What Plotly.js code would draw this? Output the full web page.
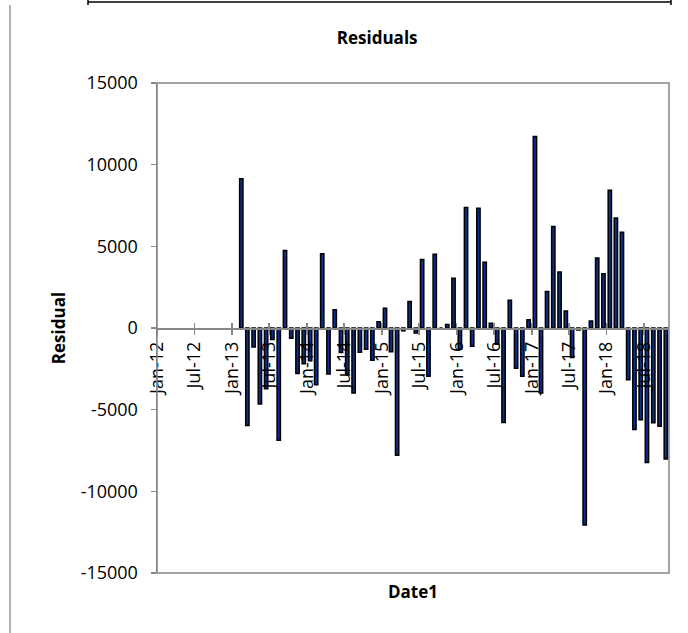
<!DOCTYPE html>
<html>
<head>
<meta charset="utf-8">
<script src="https://cdn.plot.ly/plotly-3.0.1.min.js"></script>
<style>html,body{margin:0;padding:0;background:#fff;}#chart{width:688px;height:633px;}</style>
</head>
<body>
<div id="chart"></div>
<script>
// Monthly observation dates (Date1)
const months = [
  '2013-02-01','2013-03-01','2013-04-01','2013-05-01','2013-06-01','2013-07-01','2013-08-01','2013-09-01','2013-10-01','2013-11-01','2013-12-01',
  '2014-01-01','2014-02-01','2014-03-01','2014-04-01','2014-05-01','2014-06-01','2014-07-01','2014-08-01','2014-09-01','2014-10-01','2014-11-01','2014-12-01',
  '2015-01-01','2015-02-01','2015-03-01','2015-04-01','2015-05-01','2015-06-01','2015-07-01','2015-08-01','2015-09-01','2015-10-01','2015-11-01','2015-12-01',
  '2016-01-01','2016-02-01','2016-03-01','2016-04-01','2016-05-01','2016-06-01','2016-07-01','2016-08-01','2016-09-01','2016-10-01','2016-11-01','2016-12-01',
  '2017-01-01','2017-02-01','2017-03-01','2017-04-01','2017-05-01','2017-06-01','2017-07-01','2017-08-01','2017-09-01','2017-10-01','2017-11-01','2017-12-01',
  '2018-01-01','2018-02-01','2018-03-01','2018-04-01','2018-05-01','2018-06-01','2018-07-01','2018-08-01','2018-09-01','2018-10-01'
];
// Residual values
const residuals = [
  9140, -5970, -1160, -4650, -3720, -700, -6880, 4750, -620, -2780, -2190,
  -2000, -3470, 4540, -2810, 1120, -1500, -2800, -3980, -1480, -1300, -1980, 390,
  1210, -1450, -7790, -170, 1630, -300, 4200, -2960, 4510, 0, 210, 3040,
  -1300, 7380, -1120, 7330, 4020, 290, -1000, -5780, 1700, -2460, -2960, 510,
  11730, -3980, 2240, 6220, 3430, 1040, -1800, -120, -12060, 430, 4290, 3320,
  8430, 6740, 5860, -3170, -6210, -5610, -8230, -5800, -6020, -8020
];
// Axis ticks
const tickDates = ['2012-01-01','2012-07-01','2013-01-01','2013-07-01','2014-01-01','2014-07-01','2015-01-01','2015-07-01','2016-01-01','2016-07-01','2017-01-01','2017-07-01','2018-01-01','2018-07-01'];
const tickLabels = ['Jan-12','Jul-12','Jan-13','Jul-13','Jan-14','Jul-14','Jan-15','Jul-15','Jan-16','Jul-16','Jan-17','Jul-17','Jan-18','Jul-18'];
const yTicks = [-15000, -10000, -5000, 0, 5000, 10000, 15000];
const xRange = ['2012-01-01', '2018-11-01'];
const yRange = [-15000, 15000];

const FONT = 'Open Sans, Liberation Sans, sans-serif';
const GRAY = '#878787';

const bars = {
  type: 'bar',
  x: months,
  y: residuals,
  xperiod: 'M1',
  xperiodalignment: 'middle',
  marker: { color: '#0d2f8c', line: { color: '#000000', width: 1.5 } },
  hoverinfo: 'x+y'
};
// empty helper traces so the overlay axes (crossing ticks, bottom title) are drawn
const helper2 = { type: 'scatter', x: [], y: [], xaxis: 'x2', yaxis: 'y', hoverinfo: 'skip', showlegend: false };
const helper3 = { type: 'scatter', x: [], y: [], xaxis: 'x3', yaxis: 'y', hoverinfo: 'skip', showlegend: false };

const layout = {
  width: 688,
  height: 633,
  margin: { l: 157, r: 19, t: 83, b: 60 },
  paper_bgcolor: '#ffffff',
  plot_bgcolor: '#ffffff',
  showlegend: false,
  bargap: 0.45,
  font: { family: FONT, size: 18, color: '#000' },
  title: {
    text: '<b>Residuals</b>',
    font: { family: FONT, size: 17, color: '#000' },
    xref: 'paper', x: 0.43, xanchor: 'center',
    yref: 'container', y: 1 - 38 / 633, yanchor: 'middle'
  },
  xaxis: {
    type: 'date',
    range: xRange,
    anchor: 'free',
    position: 0.5,
    showgrid: false,
    zeroline: false,
    showline: true,
    linecolor: GRAY,
    linewidth: 1.5,
    tickmode: 'array',
    tickvals: tickDates,
    ticktext: tickLabels,
    ticks: 'outside',
    ticklen: 5,
    tickwidth: 1.5,
    tickcolor: GRAY,
    tickangle: -90,
    tickfont: { family: FONT, size: 18, color: '#000' },
    fixedrange: true
  },
  xaxis2: {
    type: 'date',
    range: xRange,
    overlaying: 'x',
    anchor: 'free',
    position: 0.5,
    showgrid: false,
    zeroline: false,
    showline: false,
    tickmode: 'array',
    tickvals: tickDates,
    ticks: 'inside',
    ticklen: 5,
    tickwidth: 1.5,
    tickcolor: GRAY,
    showticklabels: false,
    fixedrange: true
  },
  xaxis3: {
    type: 'date',
    range: xRange,
    overlaying: 'x',
    anchor: 'y',
    side: 'bottom',
    showgrid: false,
    zeroline: false,
    showline: false,
    ticks: '',
    showticklabels: false,
    title: { text: '<b>Date1</b>', font: { family: FONT, size: 17, color: '#000' }, standoff: 13 },
    fixedrange: true
  },
  yaxis: {
    range: yRange,
    tickmode: 'array',
    tickvals: yTicks,
    ticktext: yTicks.map(String),
    showgrid: false,
    zeroline: false,
    showline: true,
    linecolor: GRAY,
    linewidth: 1.5,
    ticks: 'outside',
    ticklen: 5,
    tickwidth: 1.5,
    tickcolor: GRAY,
    ticklabelstandoff: 9,
    tickfont: { family: FONT, size: 18, color: '#000' },
    title: { text: '<b>Residual</b>', font: { family: FONT, size: 17, color: '#000' }, standoff: 10 },
    fixedrange: true
  },
  shapes: [
    { type: 'rect', xref: 'paper', yref: 'paper', x0: 0, x1: 1, y0: 0, y1: 1,
      line: { color: GRAY, width: 1.5 }, fillcolor: 'rgba(0,0,0,0)', layer: 'above' },
    { type: 'line', xref: 'paper', yref: 'paper', x0: (10 - 157) / 512, x1: (10 - 157) / 512,
      y0: (573 - 5) / 490, y1: (573 - 640) / 490, line: { color: '#9a9a9a', width: 1.5 } },
    { type: 'line', xref: 'paper', yref: 'paper', x0: (88 - 157) / 512, x1: (671 - 157) / 512,
      y0: (573 - 2) / 490, y1: (573 - 2) / 490, line: { color: '#000', width: 1.5 } },
    { type: 'line', xref: 'paper', yref: 'paper', x0: (88 - 157) / 512, x1: (88 - 157) / 512,
      y0: (573 + 2) / 490, y1: (573 - 5) / 490, line: { color: '#000', width: 1.5 } },
    { type: 'line', xref: 'paper', yref: 'paper', x0: (671 - 157) / 512, x1: (671 - 157) / 512,
      y0: (573 + 2) / 490, y1: (573 - 5) / 490, line: { color: '#000', width: 1.5 } }
  ]
};

Plotly.newPlot('chart', [bars, helper2, helper3], layout, { displayModeBar: false, staticPlot: true });
</script>
</body>
</html>
